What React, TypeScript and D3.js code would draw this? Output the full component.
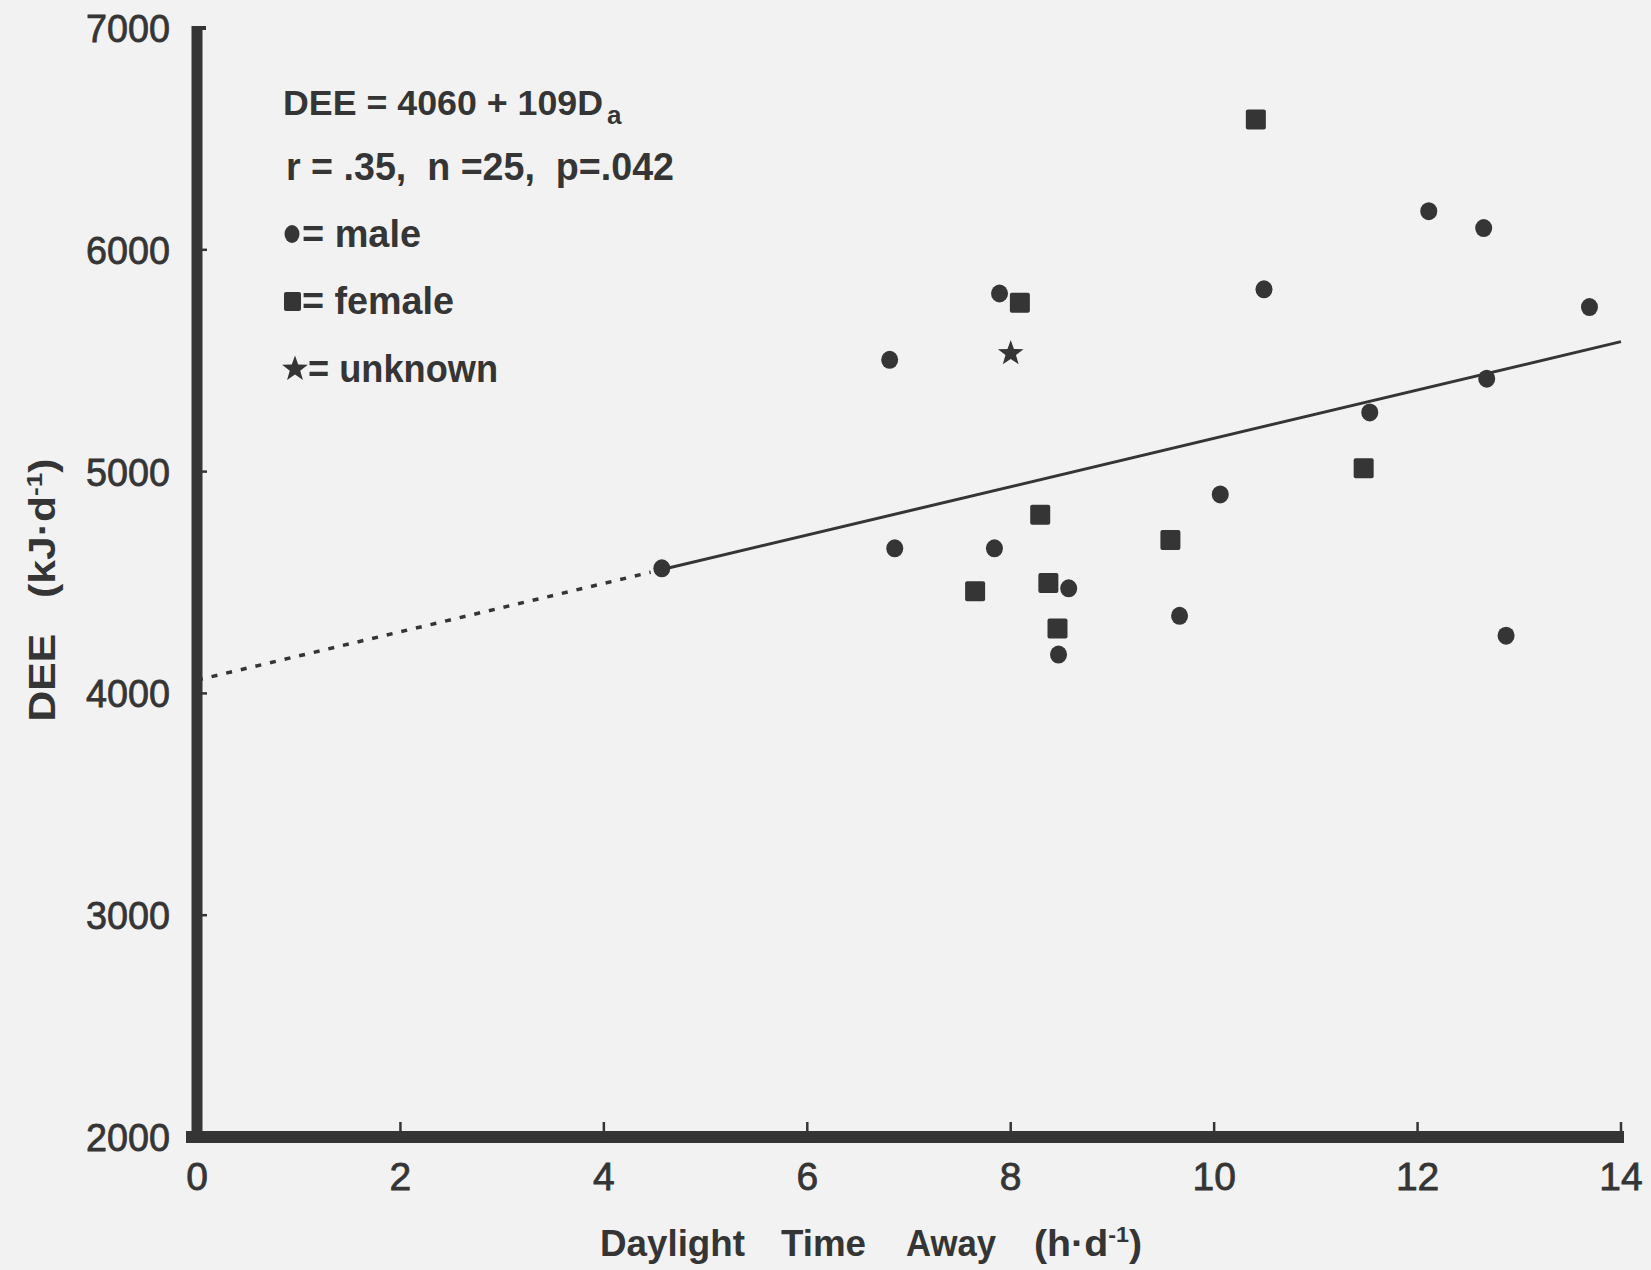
import React from "react";
import * as d3 from "d3";

const xTicks = [0, 2, 4, 6, 8, 10, 12, 14];
const yTicks = [2000, 3000, 4000, 5000, 6000, 7000];

const maleX = [4.57, 6.81, 6.86, 7.89, 7.84, 8.57, 8.47, 9.66, 10.06, 10.49, 11.53, 12.11, 12.65, 12.68, 12.87, 13.69];
const maleY = [4564, 5504, 4654, 5803, 4654, 4474, 4175, 4350, 4897, 5822, 5267, 6174, 6098, 5419, 4260, 5742];

const femaleX = [10.41, 8.09, 8.29, 7.65, 8.37, 8.46, 9.57, 11.47];
const femaleY = [6587, 5761, 4806, 4460, 4498, 4293, 4692, 5015];

const unknownX = [8.0];
const unknownY = [5533];

const fitIntercept = 4060;
const fitSlope = 109;
const fitSolidStart = 4.51;
const fitEnd = 14;

const INK = "#353535";
const BG = "#f2f2f2";
const FONT = "'Liberation Sans', Arial, Helvetica, sans-serif";

function starPath(cx: number, cy: number, R: number, r: number) {
  const pts: [number, number][] = [];
  for (let i = 0; i < 10; i++) {
    const a = -Math.PI / 2 + (i * Math.PI) / 5;
    const rad = i % 2 === 0 ? R : r;
    pts.push([cx + rad * Math.cos(a), cy + rad * Math.sin(a)]);
  }
  return "M" + pts.map((p) => p.join(",")).join("L") + "Z";
}

export default function App() {
  const W = 1651;
  const H = 1270;
  const x = d3.scaleLinear().domain([0, 14]).range([197, 1621]);
  const y = d3.scaleLinear().domain([2000, 7000]).range([1137, 28]);
  const fit = (v: number) => fitIntercept + fitSlope * v;
  const line = d3
    .line<number>()
    .x((d) => x(d))
    .y((d) => y(fit(d)));

  const males = maleX.map((v, i) => ({ x: v, y: maleY[i] }));
  const females = femaleX.map((v, i) => ({ x: v, y: femaleY[i] }));
  const unknowns = unknownX.map((v, i) => ({ x: v, y: unknownY[i] }));

  const textStyle: React.CSSProperties = { whiteSpace: "pre" };

  return (
    <div style={{ position: "fixed", left: 0, top: 0, width: W, height: H, background: BG }}>
      <svg width={W} height={H} viewBox={`0 0 ${W} ${H}`} style={{ display: "block" }}>
        <rect x={0} y={0} width={W} height={H} fill={BG} />

        {/* regression line */}
        <path d={line([0, fitSolidStart - 0.05]) || ""} stroke={INK} strokeWidth={3.5} strokeDasharray="6 9" fill="none" />
        <path d={line([fitSolidStart, fitEnd]) || ""} stroke={INK} strokeWidth={3} fill="none" />

        {/* axes */}
        <line x1={x(0)} x2={x(0)} y1={y(7000) - 2} y2={y(2000) + 6} stroke={INK} strokeWidth={11} />
        <line x1={186} x2={x(14) + 3} y1={y(2000)} y2={y(2000)} stroke={INK} strokeWidth={12} />
        <line x1={x(0) - 5} x2={x(0) + 9} y1={y(7000)} y2={y(7000)} stroke={INK} strokeWidth={4} />
        {yTicks.filter((t) => t !== 2000 && t !== 7000).map((t) => (
          <line key={"yt" + t} x1={x(0)} x2={x(0) + 10} y1={y(t)} y2={y(t)} stroke={INK} strokeWidth={2.5} />
        ))}
        {xTicks.filter((t) => t !== 0).map((t) => (
          <line key={"xt" + t} x1={x(t)} x2={x(t)} y1={y(2000)} y2={y(2000) - 15} stroke={INK} strokeWidth={2.5} />
        ))}

        {/* tick labels */}
        {yTicks.map((t) => (
          <text key={"yl" + t} x={170} y={y(t) + 14} textAnchor="end" fontFamily={FONT} fontSize={39} fill={INK} stroke={INK} strokeWidth={0.8} textLength={84} lengthAdjust="spacingAndGlyphs">
            {t}
          </text>
        ))}
        {xTicks.map((t) => (
          <text key={"xl" + t} x={x(t)} y={1190} textAnchor="middle" fontFamily={FONT} fontSize={39} fill={INK} stroke={INK} strokeWidth={0.8}>
            {t}
          </text>
        ))}

        {/* points */}
        {males.map((d, i) => (
          <ellipse key={"m" + i} cx={x(d.x)} cy={y(d.y)} rx={8.5} ry={9} fill={INK} />
        ))}
        {females.map((d, i) => (
          <rect key={"f" + i} x={x(d.x) - 10} y={y(d.y) - 10} width={20} height={20} rx={2} fill={INK} />
        ))}
        {unknowns.map((d, i) => (
          <path key={"u" + i} d={starPath(x(d.x), y(d.y), 13.5, 5.5)} fill={INK} />
        ))}

        {/* legend / annotation */}
        <g fontFamily={FONT} fontWeight="bold" fill={INK} fontSize={39}>
          <text x={283} y={115} fontSize={35} style={textStyle} textLength={320} lengthAdjust="spacingAndGlyphs">DEE = 4060 + 109D</text>
          <text x={607} y={124} fontSize={26}>a</text>
          <text x={286} y={180} style={textStyle} textLength={388} lengthAdjust="spacingAndGlyphs">r = .35,  n =25,  p=.042</text>
          <ellipse cx={292} cy={234} rx={7.5} ry={9} />
          <text x={302} y={247} style={textStyle} textLength={119} lengthAdjust="spacingAndGlyphs">= male</text>
          <rect x={284} y={292} width={17} height={19} rx={2} />
          <text x={302} y={314} style={textStyle} textLength={152} lengthAdjust="spacingAndGlyphs">= female</text>
          <path d={starPath(295, 369, 13.5, 5.5)} />
          <text x={308} y={382} style={textStyle} textLength={190} lengthAdjust="spacingAndGlyphs">= unknown</text>
        </g>

        {/* y axis title */}
        <g transform="translate(55,590) rotate(-90)" fontFamily={FONT} fontWeight="bold" fill={INK} fontSize={36}>
          <text x={0} y={0} textAnchor="middle" style={textStyle} textLength={263} lengthAdjust="spacingAndGlyphs">
            <tspan>DEE   (kJ·d</tspan>
            <tspan fontSize={22} dy={-13}>-1</tspan>
            <tspan dy={13}>)</tspan>
          </text>
        </g>

        {/* x axis title */}
        <g fontFamily={FONT} fontWeight="bold" fill={INK} fontSize={37}>
          <text x={600} y={1256} textLength={145} lengthAdjust="spacingAndGlyphs">Daylight</text>
          <text x={781} y={1256} textLength={85} lengthAdjust="spacingAndGlyphs">Time</text>
          <text x={906} y={1256} textLength={90} lengthAdjust="spacingAndGlyphs">Away</text>
          <text x={1034} y={1256} textLength={108} lengthAdjust="spacingAndGlyphs">
            <tspan>(h·d</tspan>
            <tspan fontSize={22} dy={-14}>-1</tspan>
            <tspan dy={14}>)</tspan>
          </text>
        </g>
      </svg>
    </div>
  );
}
